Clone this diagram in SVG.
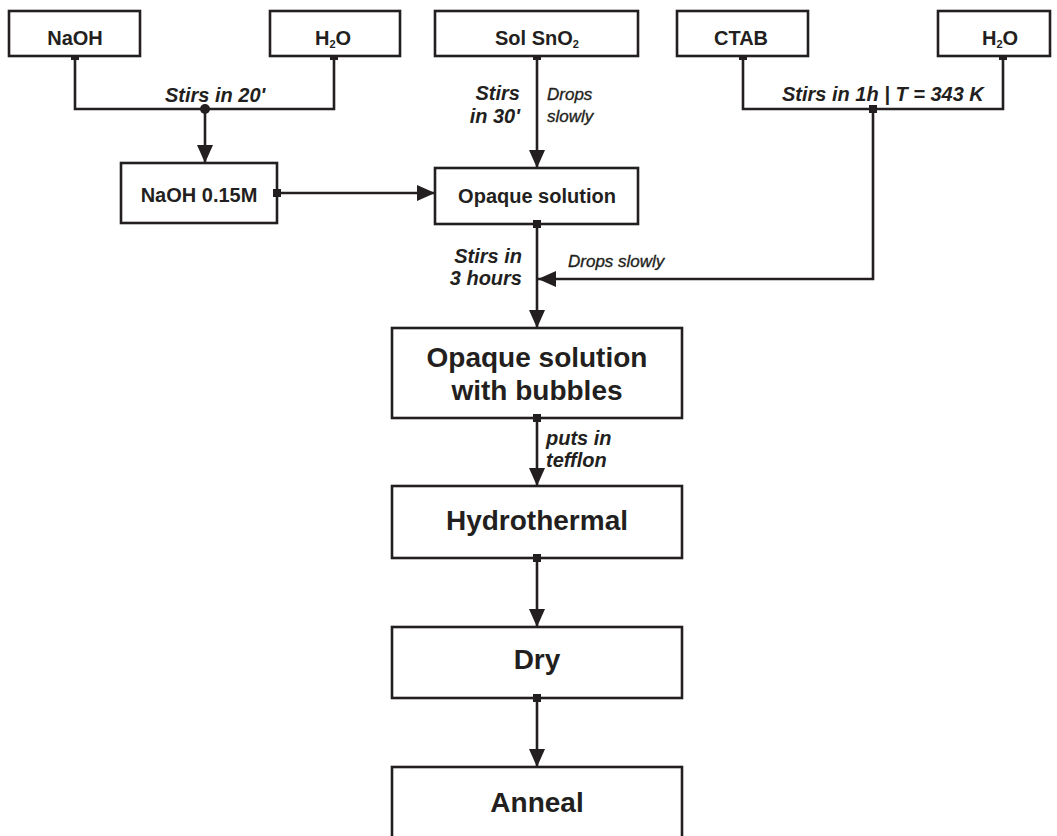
<svg xmlns="http://www.w3.org/2000/svg" width="1057" height="836" viewBox="0 0 1057 836">
<defs>
<style>
.box{fill:#fff;stroke:#231f20;stroke-width:2.6}
.ln{fill:none;stroke:#231f20;stroke-width:2.6}
.sq{fill:#231f20}
.t{font-family:"Liberation Sans",Arial,sans-serif;font-weight:bold;fill:#231f20;text-anchor:middle}
.s{font-size:20px}
.b{font-size:28px}
.lb{font-family:"Liberation Sans",Arial,sans-serif;font-weight:bold;font-style:italic;font-size:20px;fill:#231f20}
.lr{font-family:"Liberation Sans",Arial,sans-serif;font-style:italic;font-size:17px;fill:#231f20;stroke:#231f20;stroke-width:0.35}
.sub{font-size:11px}
</style>
<marker id="ah" markerUnits="userSpaceOnUse" markerWidth="18" markerHeight="18" viewBox="0 0 18 16" refX="18" refY="8" orient="auto">
<path d="M0 0 L18 8 L0 16 Z" fill="#231f20"/>
</marker>
</defs>
<rect width="1057" height="836" fill="#fff"/>
<g id="connectors">
<path class="ln" d="M75 56 V109 H334 V56"/>
<circle cx="205" cy="109" r="5" fill="#231f20"/>
<path class="ln" d="M205 109 V163" marker-end="url(#ah)"/>
<path class="ln" d="M277 193 H435" marker-end="url(#ah)"/>
<path class="ln" d="M537 56 V168" marker-end="url(#ah)"/>
<path class="ln" d="M743 56 V109 H1003 V56"/>
<path class="ln" d="M873 109 V279 H538" marker-end="url(#ah)"/>
<path class="ln" d="M537 224 V328" marker-end="url(#ah)"/>
<path class="ln" d="M537 418 V486" marker-end="url(#ah)"/>
<path class="ln" d="M537 558 V627" marker-end="url(#ah)"/>
<path class="ln" d="M537 698 V767" marker-end="url(#ah)"/>
<text class="lb" x="165" y="102">Stirs in 20'</text>
<text class="lb" x="520" y="100" text-anchor="end">Stirs</text>
<text class="lb" x="520" y="123" text-anchor="end">in 30'</text>
<text class="lr" x="547" y="100">Drops</text>
<text class="lr" x="547" y="122">slowly</text>
<text class="lb" x="782" y="101">Stirs in 1h | T = 343 K</text>
<text class="lb" x="522" y="263" text-anchor="end">Stirs in</text>
<text class="lb" x="522" y="285" text-anchor="end">3 hours</text>
<text class="lr" x="568" y="267">Drops slowly</text>
<text class="lb" x="546" y="445">puts in</text>
<text class="lb" x="546" y="467">tefflon</text>
<rect class="sq" x="71" y="52" width="8" height="8"/>
<rect class="sq" x="330" y="52" width="8" height="8"/>
<rect class="sq" x="533" y="52" width="8" height="8"/>
<rect class="sq" x="739" y="52" width="8" height="8"/>
<rect class="sq" x="999" y="52" width="8" height="8"/>
<rect class="sq" x="869" y="105" width="8" height="8"/>
</g>
<g id="naoh"><rect class="box" x="9" y="11" width="131" height="45"/><text class="t s" x="75" y="45">NaOH</text></g>
<g id="h2o-left"><rect class="box" x="270" y="11" width="130" height="45"/><text class="t s" x="333" y="45">H<tspan class="sub" dy="3">2</tspan><tspan dy="-3">O</tspan></text></g>
<g id="sol-sno2"><rect class="box" x="435" y="11" width="203" height="45"/><text class="t s" x="537" y="45">Sol SnO<tspan class="sub" dy="3">2</tspan></text></g>
<g id="ctab"><rect class="box" x="677" y="11" width="131" height="45"/><text class="t s" x="741" y="45">CTAB</text></g>
<g id="h2o-right"><rect class="box" x="938" y="11" width="112" height="45"/><text class="t s" x="1000" y="45">H<tspan class="sub" dy="3">2</tspan><tspan dy="-3">O</tspan></text></g>
<g id="naoh015"><rect class="box" x="121" y="163" width="156" height="60"/><text class="t s" x="199" y="202">NaOH 0.15M</text></g>
<g id="opaque"><rect class="box" x="435" y="168" width="203" height="56"/><text class="t s" x="537" y="203">Opaque solution</text></g>
<g id="bubbles"><rect class="box" x="392" y="328" width="290" height="90"/><text class="t b" x="537" y="367">Opaque solution</text><text class="t b" x="537" y="400">with bubbles</text></g>
<g id="hydro"><rect class="box" x="392" y="486" width="290" height="72"/><text class="t b" x="537" y="530">Hydrothermal</text></g>
<g id="dry"><rect class="box" x="392" y="627" width="290" height="71"/><text class="t b" x="537" y="669">Dry</text></g>
<g id="anneal"><rect class="box" x="392" y="767" width="290" height="100"/><text class="t b" x="537" y="812">Anneal</text></g>
<g id="squares">
<rect class="sq" x="273" y="189" width="8" height="8"/>
<rect class="sq" x="533" y="220" width="8" height="8"/>
<rect class="sq" x="533" y="414" width="8" height="8"/>
<rect class="sq" x="533" y="554" width="8" height="8"/>
<rect class="sq" x="533" y="694" width="8" height="8"/>
</g>
</svg>
